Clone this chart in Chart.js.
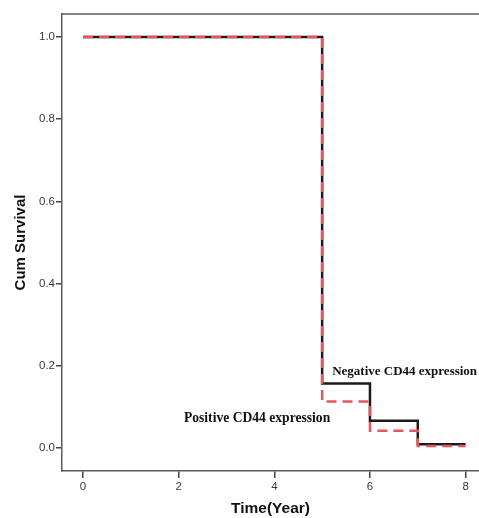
<!DOCTYPE html>
<html>
<head>
<meta charset="utf-8">
<script src="https://cdn.jsdelivr.net/npm/chart.js@4/dist/chart.umd.min.js"></script>
<style>
html,body{margin:0;padding:0;background:#fff;}
canvas{display:block;}
</style>
</head>
<body>
<canvas id="c" width="479" height="518"></canvas>
<script>
// Kaplan-Meier step points
const times = [0, 5, 6, 7, 8];
const negativeSurvival = [1.0, 0.157, 0.066, 0.009, 0.009];
const positiveSurvival = [1.0, 0.113, 0.042, 0.005, 0.005];
const xTicks = [0, 2, 4, 6, 8];
const yTicks = [0.0, 0.2, 0.4, 0.6, 0.8, 1.0];
const seriesLabels = ['Positive CD44 expression', 'Negative CD44 expression'];
// label anchors in data units
const labelAnchors = [
  {text: 'Negative CD44 expression', x: 5.21, y: 0.185, size: 13},
  {text: 'Positive CD44 expression', x: 2.11, y: 0.073, size: 13.6}
];

const toPts = (ys) => times.map((t, i) => ({x: t, y: ys[i]}));

const boxPlugin = {
  id: 'box',
  afterDraw(chart) {
    const {ctx, chartArea} = chart;
    ctx.save();
    ctx.strokeStyle = '#5a5a5a';
    ctx.lineWidth = 1.5;
    ctx.beginPath();
    ctx.moveTo(chartArea.left, chartArea.top);
    ctx.lineTo(chart.width + 2, chartArea.top);
    ctx.stroke();
    // text labels
    const xs = chart.scales.x, ys = chart.scales.y;
    ctx.fillStyle = '#111';
    ctx.textBaseline = 'middle';
    ctx.textAlign = 'left';
    labelAnchors.forEach(a => {
      ctx.font = 'bold ' + a.size + 'px "Liberation Serif", "Times New Roman", serif';
      ctx.fillText(a.text, xs.getPixelForValue(a.x), ys.getPixelForValue(a.y));
    });
    ctx.restore();
  }
};

new Chart(document.getElementById('c'), {
  type: 'line',
  data: {
    datasets: [
      {
        label: seriesLabels[0],
        data: toPts(positiveSurvival),
        borderColor: '#e8555b',
        borderWidth: 2.5,
        borderDash: [10, 6],
        stepped: true,
        pointRadius: 0,
        fill: false
      },
      {
        label: seriesLabels[1],
        data: toPts(negativeSurvival),
        borderColor: '#1a1a1a',
        borderWidth: 2.5,
        stepped: true,
        pointRadius: 0,
        fill: false
      }
    ]
  },
  options: {
    responsive: false,
    animation: false,
    layout: {padding: {top: 14, right: 0, left: 0, bottom: 0}},
    plugins: {legend: {display: false}, tooltip: {enabled: false}},
    scales: {
      x: {
        type: 'linear',
        min: -0.44,
        max: 8.28,
        afterBuildTicks(s) { s.ticks = xTicks.map(v => ({value: v})); },
        afterFit(s) { s.height = 47; },
        grid: {drawOnChartArea: false, drawTicks: true, tickLength: 7, color: '#444', lineWidth: 1.5},
        border: {display: true, color: '#5a5a5a', width: 1.5},
        ticks: {
          color: '#3a3a3a',
          font: {family: '"Liberation Sans", Arial, sans-serif', size: 11.5},
          padding: 2,
          maxRotation: 0,
          callback: v => String(v)
        },
        title: {
          display: true,
          text: 'Time(Year)',
          color: '#111',
          font: {family: '"Liberation Sans", Arial, sans-serif', size: 15.5, weight: 'bold'},
          padding: {top: 0, bottom: 0}
        }
      },
      y: {
        type: 'linear',
        min: -0.056,
        max: 1.056,
        afterBuildTicks(s) { s.ticks = yTicks.map(v => ({value: v})); },
        afterFit(s) { s.width = 62; },
        grid: {drawOnChartArea: false, drawTicks: true, tickLength: 6, color: '#444', lineWidth: 1.5},
        border: {display: true, color: '#5a5a5a', width: 1.5},
        ticks: {
          color: '#3a3a3a',
          font: {family: '"Liberation Sans", Arial, sans-serif', size: 11.5},
          padding: 1,
          callback: v => Number(v).toFixed(1)
        },
        title: {
          display: true,
          text: 'Cum Survival',
          color: '#111',
          font: {family: '"Liberation Sans", Arial, sans-serif', size: 15, weight: 'bold'},
          padding: {top: 12, bottom: 0}
        }
      }
    }
  },
  plugins: [boxPlugin]
});
</script>
</body>
</html>
